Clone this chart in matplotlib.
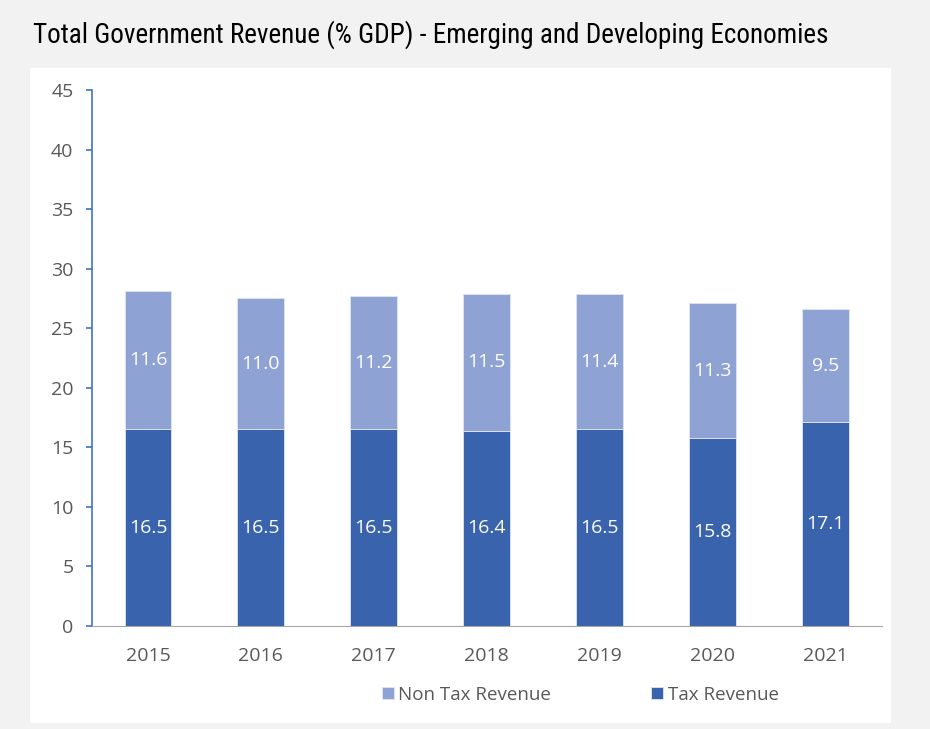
import matplotlib.pyplot as plt
from matplotlib.patches import Rectangle
import matplotlib.font_manager as fm

years = ['2015', '2016', '2017', '2018', '2019', '2020', '2021']
tax_revenue = [16.5, 16.5, 16.5, 16.4, 16.5, 15.8, 17.1]
non_tax_revenue = [11.6, 11.0, 11.2, 11.5, 11.4, 11.3, 9.5]

dark_blue = '#3a63ad'
light_blue = '#8fa2d4'
grey_text = '#595959'

names = {f.name for f in fm.fontManager.ttflist}
title_font = next((n for n in ['Roboto Condensed', 'Liberation Sans Narrow', 'Open Sans Condensed',
                               'Roboto', 'Liberation Sans'] if n in names), 'DejaVu Sans')
body_font = 'Open Sans'

fig = plt.figure(figsize=(9.3, 7.29), dpi=100)
fig.patch.set_facecolor('#f2f2f2')

# white panel behind the chart
bg = fig.add_axes([0, 0, 1, 1], zorder=-10)
bg.set_axis_off()
bg.set_xlim(0, 930)
bg.set_ylim(729, 0)
bg.add_patch(Rectangle((30, 68), 861, 655, facecolor='white', edgecolor='none'))

title = fig.text(33 / 930, 1 - 35 / 729,
                 'Total Government Revenue (% GDP) - Emerging and Developing Economies',
                 fontsize=20, family=title_font, va='center', ha='left', color='black')
fig.canvas.draw()
tw = title.get_window_extent().width
title.set_fontsize(20 * 793 / tw)

ax = fig.add_axes([91.5 / 930, 103 / 729, 790.5 / 930, 536 / 729])
ax.set_facecolor('none')

x = list(range(len(years)))
w = 0.415
b1 = ax.bar(x, tax_revenue, w, color=dark_blue, edgecolor='#dfe5f2', linewidth=0.6, label='Tax Revenue')
b2 = ax.bar(x, non_tax_revenue, w, bottom=tax_revenue, color=light_blue, edgecolor='#dfe5f2',
            linewidth=0.6, label='Non Tax Revenue')

for i in x:
    ax.text(i, tax_revenue[i] / 2, f'{tax_revenue[i]:.1f}', ha='center', va='center',
            color='white', fontsize=14, family=body_font)
    ax.text(i, tax_revenue[i] + non_tax_revenue[i] / 2, f'{non_tax_revenue[i]:.1f}',
            ha='center', va='center', color='white', fontsize=14, family=body_font)

ax.set_xlim(-0.5, 6.5)
ax.set_ylim(0, 45)
ax.set_yticks(range(0, 46, 5))
ax.set_xticks(x)
ax.set_xticklabels(years)

for s in ['top', 'right']:
    ax.spines[s].set_visible(False)
ax.spines['left'].set_color('#4472c4')
ax.spines['left'].set_linewidth(1.2)
ax.spines['bottom'].set_color('#a6a6a6')
ax.spines['bottom'].set_linestyle((0, (2, 1)))
ax.spines['bottom'].set_linewidth(0.8)

ax.tick_params(axis='y', colors='#4472c4', labelcolor=grey_text, length=4, width=1.2,
               labelsize=14, pad=9)
ax.tick_params(axis='x', length=0, labelcolor=grey_text, labelsize=14, pad=15)
for lbl in ax.get_xticklabels() + ax.get_yticklabels():
    lbl.set_family(body_font)

leg = ax.legend(handles=[b2, b1], loc='center', bbox_to_anchor=(0.618, -0.128), ncol=2,
                frameon=False, handlelength=0.65, handleheight=0.65, handletextpad=0.25,
                columnspacing=5.3, prop={'family': body_font, 'size': 13.5})
for t in leg.get_texts():
    t.set_color(grey_text)

fig.savefig('out.png', dpi=100, facecolor=fig.get_facecolor())
